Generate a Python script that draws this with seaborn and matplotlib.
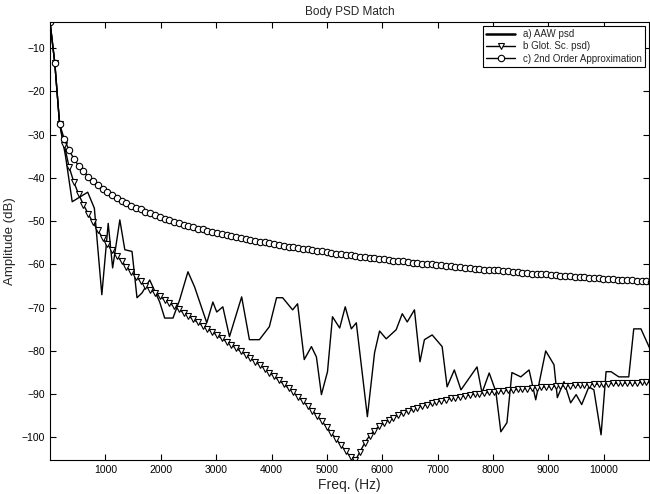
import numpy as np
import seaborn as sns
import matplotlib.pyplot as plt

# --- 1. DATA ---
# FFT bin grid (fs = 22050 Hz, 256 points)
freq_hz = np.arange(127) * 22050 / 256

glot_db = [
    -4.0, -13.5, -27.5, -32.5, -37.5, -41.0, -43.8, -46.2, -48.3, -50.3,
    -52.1, -53.8, -55.3, -56.7, -58.0, -59.3, -60.5, -61.7, -62.8, -63.9,
    -65.0, -65.8, -66.6, -67.4, -68.2, -68.9, -69.7, -70.4, -71.2, -71.9,
    -72.7, -73.4, -74.2, -74.9, -75.6, -76.4, -77.1, -77.9, -78.6, -79.4,
    -80.1, -80.9, -81.7, -82.5, -83.3, -84.1, -85.0, -85.9, -86.8, -87.7,
    -88.6, -89.6, -90.6, -91.6, -92.7, -93.8, -95.0, -96.3, -97.6, -99.0,
    -100.4, -101.8, -103.2, -104.5, -105.3, -103.3, -101.2, -99.6, -98.4, -97.4,
    -96.6, -96.0, -95.4, -94.8, -94.3, -93.9, -93.5, -93.1, -92.7, -92.4,
    -92.1, -91.8, -91.5, -91.3, -91.0, -90.8, -90.6, -90.4, -90.2, -90.0,
    -89.9, -89.7, -89.6, -89.4, -89.3, -89.2, -89.1, -89.0, -88.9, -88.8,
    -88.7, -88.6, -88.5, -88.4, -88.3, -88.3, -88.2, -88.1, -88.1, -88.0,
    -87.9, -87.9, -87.8, -87.8, -87.7, -87.7, -87.6, -87.6, -87.5, -87.5,
    -87.5, -87.4, -87.4, -87.4, -87.3, -87.3, -87.3,
]

approx_db = [
    -4.0, -13.5, -27.5, -31.1, -33.6, -35.6, -37.2, -38.5, -39.7, -40.8,
    -41.7, -42.5, -43.3, -44.0, -44.6, -45.3, -45.8, -46.4, -46.9, -47.3,
    -47.8, -48.2, -48.6, -49.0, -49.4, -49.8, -50.1, -50.4, -50.8, -51.1,
    -51.4, -51.7, -51.9, -52.2, -52.5, -52.7, -53.0, -53.2, -53.4, -53.7,
    -53.9, -54.1, -54.3, -54.5, -54.7, -54.9, -55.1, -55.3, -55.5, -55.7,
    -55.9, -56.0, -56.2, -56.4, -56.5, -56.7, -56.9, -57.0, -57.2, -57.3,
    -57.5, -57.6, -57.8, -57.9, -58.0, -58.2, -58.3, -58.4, -58.6, -58.7,
    -58.8, -59.0, -59.1, -59.2, -59.3, -59.4, -59.6, -59.7, -59.8, -59.9,
    -60.0, -60.1, -60.2, -60.3, -60.4, -60.5, -60.7, -60.8, -60.9, -61.0,
    -61.1, -61.2, -61.2, -61.3, -61.4, -61.5, -61.6, -61.7, -61.8, -61.9,
    -62.0, -62.1, -62.2, -62.2, -62.3, -62.4, -62.5, -62.6, -62.7, -62.7,
    -62.8, -62.9, -63.0, -63.1, -63.1, -63.2, -63.3, -63.4, -63.4, -63.5,
    -63.6, -63.7, -63.7, -63.8, -63.9, -63.9, -64.0,
]

aaw_freq = [
    0, 86, 172, 280, 400, 680, 800, 935, 1050, 1130,
    1260, 1350, 1480, 1570, 1660, 1800, 1980, 2070, 2220, 2340,
    2490, 2610, 2830, 2940, 3010, 3120, 3240, 3460, 3600, 3780,
    3960, 4090, 4200, 4380, 4470, 4590, 4720, 4810, 4900, 5010,
    5100, 5230, 5330, 5440, 5530, 5730, 5860, 5950, 6070, 6250,
    6360, 6450, 6580, 6680, 6760, 6900, 7080, 7170, 7300, 7420,
    7710, 7800, 7930, 8050, 8140, 8250, 8340, 8500, 8650, 8770,
    8950, 9100, 9160, 9280, 9400, 9500, 9600, 9730, 9820, 9950,
    10040, 10130, 10270, 10450, 10540, 10670, 10850,
]
aaw_db = [
    -4.0, -13.5, -27.5, -35.0, -45.5, -43.3, -47.0, -67.0, -50.5, -60.8,
    -49.7, -56.6, -57.0, -67.7, -66.6, -63.6, -68.7, -72.4, -72.4, -68.2,
    -61.7, -65.2, -73.5, -68.7, -71.0, -69.8, -76.7, -67.5, -77.4, -77.4,
    -74.4, -67.7, -67.7, -70.5, -69.1, -82.0, -79.0, -81.4, -90.1, -84.8,
    -72.1, -74.7, -69.8, -74.9, -73.5, -95.2, -80.4, -75.4, -77.2, -75.1,
    -71.4, -73.3, -70.5, -82.5, -77.4, -76.3, -79.0, -88.3, -84.4, -89.0,
    -83.7, -89.7, -85.1, -89.4, -98.7, -96.6, -85.0, -86.0, -84.4, -91.3,
    -80.0, -83.2, -90.8, -87.1, -92.0, -90.1, -92.4, -88.3, -89.0, -99.4,
    -84.8, -84.8, -86.0, -86.0, -74.9, -74.9, -80.0,
]

x_ticks = [1000, 2000, 3000, 4000, 5000, 6000, 7000, 8000, 9000, 10000]
y_ticks = [-100, -90, -80, -70, -60, -50, -40, -30, -20, -10]

# --- 2. STYLE ---
sns.set_style("ticks")
plt.rcParams['font.family'] = ['Liberation Sans', 'DejaVu Sans']

fig, ax = plt.subplots(figsize=(6.5, 4.94), dpi=100)
fig.subplots_adjust(left=0.077, right=0.998, bottom=0.069, top=0.955)

# --- 3. CURVES ---
sns.lineplot(x=aaw_freq, y=aaw_db, ax=ax, color='black', lw=1.0,
             sort=False, estimator=None, label='a) AAW psd')
sns.lineplot(x=freq_hz, y=glot_db, ax=ax, color='black', lw=1.0,
             marker='v', markersize=4.6, markerfacecolor='white',
             markeredgecolor='black', markeredgewidth=0.8,
             sort=False, estimator=None, label='b Glot. Sc. psd)')
sns.lineplot(x=freq_hz, y=approx_db, ax=ax, color='black', lw=1.0,
             marker='o', markersize=4.6, markerfacecolor='white',
             markeredgecolor='black', markeredgewidth=0.8,
             sort=False, estimator=None, label='c) 2nd Order Approximation')

# --- 4. AXES ---
ax.set_xlim(0, 10810)
ax.set_ylim(-105.2, -4)
ax.set_xticks(x_ticks)
ax.set_yticks(y_ticks)
ax.tick_params(direction='in', top=True, right=True, length=4,
               width=0.8, labelsize=7.5, colors='black')
for s in ax.spines.values():
    s.set_color('black')
    s.set_linewidth(0.8)

ax.set_title('Body PSD Match', fontsize=8.5, pad=5)
ax.set_xlabel('Freq. (Hz)', fontsize=10, labelpad=2)
ax.set_ylabel('Amplitude (dB)', fontsize=9.5, labelpad=4)

leg = ax.legend(loc='upper right', fontsize=7, frameon=True, fancybox=False,
                edgecolor='black', framealpha=1, handlelength=3,
                labelspacing=0.25, borderaxespad=0.4, borderpad=0.3)
leg.get_frame().set_linewidth(0.8)
# the legend sample of the measured psd is drawn thicker
leg.get_lines()[0].set_linewidth(1.8)

plt.savefig('out.png', dpi=100)
